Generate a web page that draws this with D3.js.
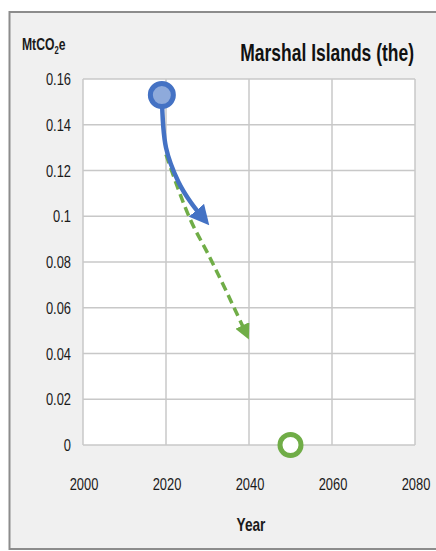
<!DOCTYPE html>
<html>
<head>
<meta charset="utf-8">
<script src="https://cdn.jsdelivr.net/npm/d3@7"></script>
<style>
  body { margin: 0; background: #fff; }
  svg { display: block; font-family: "Liberation Sans", "DejaVu Sans", sans-serif; }
</style>
</head>
<body>
<svg id="chart" width="436" height="551"></svg>
<script>
// data
const title = "Marshal Islands (the)";
const yTicks = [0, 0.02, 0.04, 0.06, 0.08, 0.1, 0.12, 0.14, 0.16];
const xTicks = [2000, 2020, 2040, 2060, 2080];
const startPoint = { year: 2019, value: 0.153 };
const targetPoint = { year: 2050, value: 0 };
const trendYears = [2019, 2020, 2023, 2026, 2029.5];
const trendValues = [0.153, 0.130, 0.115, 0.106, 0.098];
const pathYears = [2020, 2026, 2030, 2039.5];
const pathValues = [0.127, 0.098, 0.084, 0.048];

const svg = d3.select("#chart");
const blue = "#4472c4", green = "#70ad47";
const squeeze = 0.76; // condensed look of the original font

// condensed text helper
function label(g, px, py, txt, size, anchor, weight) {
  return g.append("text")
    .attr("transform", `translate(${px},${py}) scale(${squeeze},1)`)
    .attr("text-anchor", anchor).attr("font-size", size)
    .attr("font-weight", weight || "normal").attr("fill", "#1a1a1a")
    .text(txt);
}

// panel background + frame
svg.append("rect").attr("width", 436).attr("height", 551).attr("fill", "#fff");
svg.append("rect").attr("x", 9.5).attr("y", 12).attr("width", 440).attr("height", 537)
  .attr("fill", "#f0f0f0").attr("stroke", "#8c8c8c").attr("stroke-width", 2);

const x = d3.scaleLinear().domain([2000, 2080]).range([83, 415]);
const y = d3.scaleLinear().domain([0, 0.16]).range([445, 79]);

svg.append("rect").attr("x", x(2000)).attr("y", y(0.16))
  .attr("width", x(2080) - x(2000)).attr("height", y(0) - y(0.16))
  .attr("fill", "#fff");

// gridlines
svg.append("g").selectAll("line").data(yTicks).join("line")
  .attr("x1", x(2000)).attr("x2", x(2080))
  .attr("y1", d => y(d)).attr("y2", d => y(d))
  .attr("stroke", "#c8c8c8").attr("stroke-width", 1.5);
svg.append("g").selectAll("line").data(xTicks).join("line")
  .attr("x1", d => x(d)).attr("x2", d => x(d))
  .attr("y1", y(0)).attr("y2", y(0.16))
  .attr("stroke", "#c8c8c8").attr("stroke-width", 1.5);

// tick labels
const gy = svg.append("g");
yTicks.forEach(d => label(gy, 71, y(d) + 6, d3.format("")(d), 17, "end"));
const gx = svg.append("g");
xTicks.forEach(d => label(gx, x(d) + 1, 490, d, 17, "middle"));

label(svg, 251, 531, "Year", 18, "middle", "bold");

const unit = svg.append("text")
  .attr("transform", `translate(22,50) scale(${squeeze},1)`)
  .attr("font-size", 16).attr("font-weight", "bold").attr("fill", "#1a1a1a");
unit.append("tspan").text("MtCO");
unit.append("tspan").attr("font-size", 10).attr("dy", 4).text("2");
unit.append("tspan").attr("dy", -4).text("e");

label(svg, 414, 61, title, 23, "end", "bold").attr("fill", "#111");

// arrowheads
const defs = svg.append("defs");
[["arrBlue", blue], ["arrGreen", green]].forEach(([id, c]) => {
  defs.append("marker").attr("id", id).attr("viewBox", "0 0 10 10")
    .attr("refX", 7).attr("refY", 5).attr("markerWidth", 4.4).attr("markerHeight", 4.4)
    .attr("markerUnits", "strokeWidth").attr("orient", "auto")
    .append("path").attr("d", "M0,0 L10,5 L0,10 Z").attr("fill", c);
});

const line = d3.line().x(d => x(d[0])).y(d => y(d[1])).curve(d3.curveMonotoneX);

svg.append("path")
  .datum(d3.zip(pathYears, pathValues))
  .attr("d", line)
  .attr("fill", "none").attr("stroke", green).attr("stroke-width", 3.5)
  .attr("stroke-dasharray", "9,5")
  .attr("marker-end", "url(#arrGreen)");

svg.append("path")
  .datum(d3.zip(trendYears, trendValues))
  .attr("d", d3.line().x(d => x(d[0])).y(d => y(d[1])).curve(d3.curveCatmullRom))
  .attr("fill", "none").attr("stroke", blue).attr("stroke-width", 4.5)
  .attr("marker-end", "url(#arrBlue)");

svg.append("circle").attr("cx", x(startPoint.year)).attr("cy", y(startPoint.value)).attr("r", 11.5)
  .attr("fill", "#8eaadb").attr("stroke", blue).attr("stroke-width", 5);
svg.append("circle").attr("cx", x(targetPoint.year)).attr("cy", y(targetPoint.value)).attr("r", 10.5)
  .attr("fill", "#fff").attr("stroke", green).attr("stroke-width", 5);
</script>
</body>
</html>
